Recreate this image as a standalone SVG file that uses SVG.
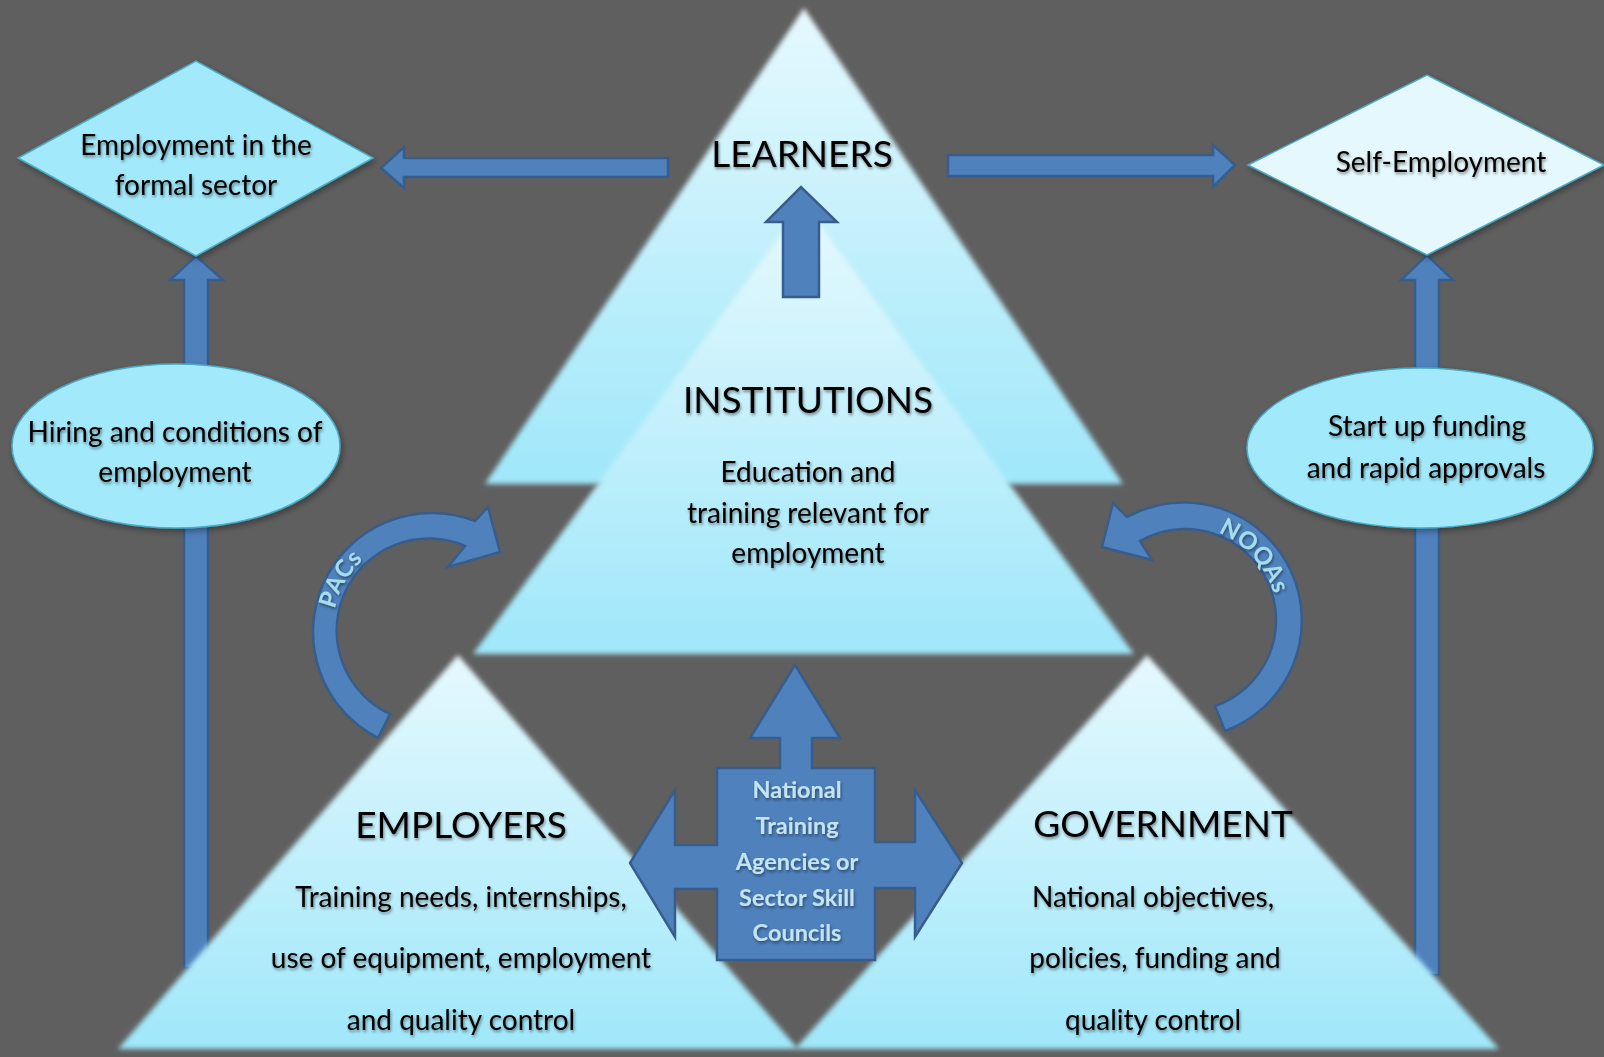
<svg xmlns="http://www.w3.org/2000/svg" width="1604" height="1057" viewBox="0 0 1604 1057">
<defs>
<style>
.arrow{fill:#4f81bd;stroke:#385d8a;stroke-width:2.5;stroke-linejoin:miter}
.shape{stroke:#4bacc6;stroke-width:1.5}
.lbl{font-family:Lato,"Open Sans","Liberation Sans",sans-serif;fill:#000;text-anchor:middle;filter:url(#tshadow)}
.title{font-size:37px}
.body{font-size:28px}
.boxt{font-size:23.5px;font-weight:bold;fill:#c3e4f1}
.curvet{font-family:Lato,"Open Sans","Liberation Sans",sans-serif;font-size:24px;font-weight:bold;fill:#a6dcec;letter-spacing:0.5px;filter:url(#tshadow)}
</style>
<linearGradient id="triGrad" x1="0" y1="0" x2="0" y2="1">
<stop offset="0" stop-color="#e6f9fe"/>
<stop offset="1" stop-color="#9fe7fa"/>
</linearGradient>
<filter id="soft" x="-5%" y="-5%" width="110%" height="110%">
<feGaussianBlur stdDeviation="2.5"/>
</filter>
<filter id="tshadow" x="-10%" y="-30%" width="120%" height="160%">
<feGaussianBlur in="SourceAlpha" stdDeviation="1.5" result="b"/>
<feOffset in="b" dx="1" dy="2" result="o"/>
<feComponentTransfer in="o" result="s"><feFuncA type="linear" slope="0.45"/></feComponentTransfer>
<feMerge><feMergeNode in="s"/><feMergeNode in="SourceGraphic"/></feMerge>
</filter>
<filter id="shapeShadow" x="-10%" y="-10%" width="120%" height="130%">
<feGaussianBlur in="SourceAlpha" stdDeviation="3" result="b"/>
<feOffset in="b" dx="2" dy="3" result="o"/>
<feComponentTransfer in="o" result="s"><feFuncA type="linear" slope="0.35"/></feComponentTransfer>
<feMerge><feMergeNode in="s"/><feMergeNode in="SourceGraphic"/></feMerge>
</filter>
<path id="pacsPath" d="M 345.4 682 A 100 100 0 0 1 432 532"/>
<path id="noqasPath" d="M 1160.8 527.1 A 97 97 0 0 1 1273.2 652"/>
</defs>

<rect x="0" y="0" width="1604" height="1057" fill="#5f5f5f"/>

<g id="connectors">
<path id="arrow-left-up" class="arrow" d="M184 968 L184 280 L170 280 L196 256 L223 280 L208 280 L208 968 Z"/>
<path id="arrow-right-up" class="arrow" d="M1415 975 L1415 280 L1401 280 L1427 255 L1453 280 L1439 280 L1439 975 Z"/>
</g>

<g id="learners">
<polygon points="804,8 1123,484 485,484" fill="url(#triGrad)" filter="url(#soft)"/>
</g>
<g id="institutions">
<polygon points="804,203 1134,654 473,654" fill="url(#triGrad)" filter="url(#soft)"/>
</g>

<g id="connectors-2">
<path id="arrow-inst-learners" class="arrow" d="M783 297 L783 222 L766 222 L801 187 L837 222 L819 222 L819 297 Z"/>
<path id="arrow-to-formal" class="arrow" d="M668 158 L404 158 L404 147 L381 168 L404 188 L404 177 L668 177 Z"/>
<path id="arrow-to-self" class="arrow" d="M948 155 L1213 155 L1213 145 L1235 165 L1213 187 L1213 176 L948 176 Z"/>
<path id="arrow-pacs" class="arrow" d="M378 738 A 119 119 0 0 1 475 521 L488 507 L500 552 L448 567 L465 546 A 92 92 0 0 0 390 714 Z"/>
<path id="arrow-noqas" class="arrow" d="M1225 731 A 118 118 0 1 0 1127 517 L1113 503 L1102 547 L1152 560 L1140 541 A 91 91 0 1 1 1215 706 Z"/>
<text class="curvet"><textPath href="#pacsPath" startOffset="50%" text-anchor="middle">PACs</textPath></text>
<text class="curvet"><textPath href="#noqasPath" startOffset="50%" text-anchor="middle">NOQAs</textPath></text>
</g>

<g id="formal-sector">
<polygon class="shape" points="18,158 196,61 373,158 196,256" fill="#a2e9fb" filter="url(#shapeShadow)"/>
<text class="lbl body" x="196" y="155">Employment in the</text>
<text class="lbl body" x="196" y="195">formal sector</text>
</g>

<g id="self-employment">
<polygon class="shape" points="1248,165 1427,75 1604,165 1427,255" fill="#e5f8fe" filter="url(#shapeShadow)"/>
<text class="lbl body" x="1441" y="172">Self-Employment</text>
</g>

<g id="hiring">
<ellipse class="shape" cx="176" cy="446" rx="164" ry="82" fill="#a2e9fb" filter="url(#shapeShadow)"/>
<text class="lbl body" x="175" y="442">Hiring and conditions of</text>
<text class="lbl body" x="175" y="482">employment</text>
</g>

<g id="startup">
<ellipse class="shape" cx="1420" cy="448" rx="173" ry="80" fill="#a2e9fb" filter="url(#shapeShadow)"/>
<text class="lbl body" x="1427" y="436">Start up funding</text>
<text class="lbl body" x="1426" y="478">and rapid approvals</text>
</g>

<g id="employers">
<polygon points="458,655 798,1049 118,1049" fill="url(#triGrad)" filter="url(#soft)"/>
</g>
<g id="government">
<polygon points="1147,655 1499,1049 795,1049" fill="url(#triGrad)" filter="url(#soft)"/>
</g>

<g id="national-agencies">
<path class="arrow" d="M795 665 L840 738 L812 738 L812 768 L875 768 L875 842 L915 842 L915 790 L962 863 L915 937 L915 888 L875 888 L875 960 L717 960 L717 889 L675 889 L675 937 L630 863 L675 790 L675 845 L717 845 L717 768 L780 768 L780 738 L750 738 Z"/>
<text class="lbl boxt" x="797" y="798">National</text>
<text class="lbl boxt" x="797" y="834">Training</text>
<text class="lbl boxt" x="797" y="870">Agencies or</text>
<text class="lbl boxt" x="797" y="906">Sector Skill</text>
<text class="lbl boxt" x="797" y="941">Councils</text>
</g>

<g id="learners-text">
<text class="lbl title" x="802" y="167">LEARNERS</text>
</g>
<g id="institutions-text">
<text class="lbl title" x="808" y="413">INSTITUTIONS</text>
<text class="lbl body" x="808" y="482">Education and</text>
<text class="lbl body" x="808" y="523">training relevant for</text>
<text class="lbl body" x="808" y="563">employment</text>
</g>
<g id="employers-text">
<text class="lbl title" x="461" y="838">EMPLOYERS</text>
<text class="lbl body" x="461" y="907">Training needs, internships,</text>
<text class="lbl body" x="461" y="968">use of equipment, employment</text>
<text class="lbl body" x="461" y="1030">and quality control</text>
</g>
<g id="government-text">
<text class="lbl title" x="1163" y="837">GOVERNMENT</text>
<text class="lbl body" x="1153" y="907">National objectives,</text>
<text class="lbl body" x="1155" y="968">policies, funding and</text>
<text class="lbl body" x="1153" y="1030">quality control</text>
</g>
</svg>
